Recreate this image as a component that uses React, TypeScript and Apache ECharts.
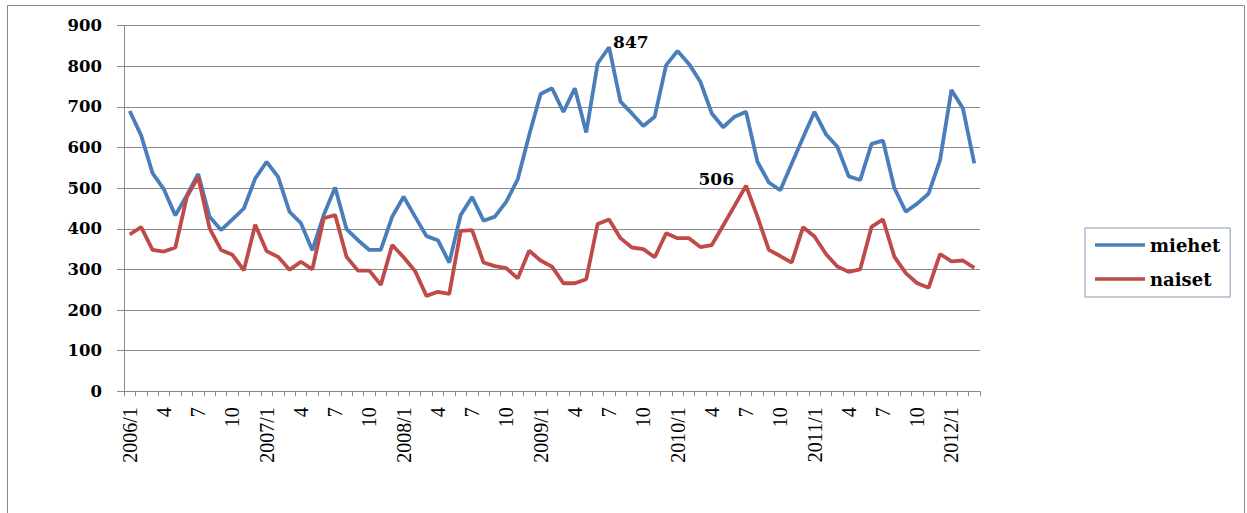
import React, { useEffect, useRef } from "react";
import * as echarts from "echarts";

const years = [2006, 2007, 2008, 2009, 2010, 2011, 2012];
const monthsInLastYear = 3;

const categories: string[] = [];
years.forEach((y, yi) => {
  const n = yi === years.length - 1 ? monthsInLastYear : 12;
  for (let m = 1; m <= n; m++) categories.push(m === 1 ? `${y}/1` : `${m}`);
});

const yTicks = [0, 100, 200, 300, 400, 500, 600, 700, 800, 900];

const miehet = [
  690, 630, 537, 497, 433, 482, 535, 430, 397, 423, 450, 524,
  565, 528, 442, 414, 347, 434, 502, 399, 372, 348, 348, 430,
  479, 430, 382, 372, 317, 434, 478, 420, 430, 467, 522, 631,
  732, 746, 688, 746, 637, 807, 847, 713, 684, 653, 676, 803,
  838, 806, 762, 684, 650, 676, 688, 565, 514, 495, 560, 625,
  688, 633, 602, 529, 520, 609, 617, 500, 442, 462, 487, 569,
  742, 697, 561,
];

const naiset = [
  386, 404, 348, 344, 354, 478, 528, 401, 348, 336, 298, 410,
  345, 331, 299, 319, 300, 426, 434, 331, 297, 297, 262, 360,
  330, 296, 235, 245, 240, 395, 397, 317, 308, 303, 278, 346,
  322, 307, 266, 266, 276, 412, 423, 377, 354, 350, 330, 389,
  377, 377, 355, 360, 408, 457, 506, 430, 348, 333, 317, 404,
  381, 338, 307, 294, 300, 405, 423, 331, 291, 266, 255, 338,
  320, 322, 304,
];

// labelled points: [year, month]
const miehetLabelAt = [2009, 7];
const naisetLabelAt = [2010, 7];

const labelFont = {
  fontFamily: "DejaVu Serif",
  fontWeight: "bold" as const,
  fontSize: 17,
  color: "#000",
};

function withLabel(values: number[], at: number[], label: any) {
  const idx = years.indexOf(at[0]) * 12 + (at[1] - 1);
  return values.map((v, i) => (i === idx ? { value: v, label } : v));
}

export default function App() {
  const ref = useRef<HTMLDivElement>(null);
  useEffect(() => {
    if (!ref.current) return;
    const chart = echarts.init(ref.current, null, { renderer: "svg" });
    chart.setOption({
      animation: false,
      backgroundColor: "#fff",
      graphic: [
        {
          type: "rect",
          shape: { x: 7.5, y: 5.5, width: 1237, height: 530 },
          style: { fill: "none", stroke: "#8a8a8a", lineWidth: 1 },
          silent: true,
        },
      ],
      grid: { left: 124, right: 267, top: 25.7, bottom: 121.7, containLabel: false },
      legend: {
        orient: "vertical",
        left: 1085,
        top: 228,
        padding: [8, 10, 9, 10],
        icon: "rect",
        itemWidth: 50,
        itemHeight: 3.5,
        itemGap: 16,
        borderColor: "#8498b4",
        borderWidth: 1,
        textStyle: {
          fontFamily: "DejaVu Serif",
          fontWeight: "bold",
          fontSize: 18,
          color: "#000",
          lineHeight: 14,
        },
        data: ["miehet", "naiset"],
      },
      xAxis: {
        type: "category",
        data: categories,
        boundaryGap: true,
        axisLine: { lineStyle: { color: "#8a8a8a", width: 1 } },
        axisTick: { show: true, interval: 0, length: 5, lineStyle: { color: "#8a8a8a" } },
        axisLabel: {
          interval: 2,
          rotate: 90,
          margin: 16,
          fontFamily: "Liberation Serif",
          fontSize: 20,
          color: "#000",
        },
        splitLine: { show: false },
      },
      yAxis: {
        type: "value",
        min: yTicks[0],
        max: yTicks[yTicks.length - 1],
        interval: 100,
        axisLine: { show: true, lineStyle: { color: "#8a8a8a", width: 1 } },
        axisTick: { show: true, length: 7, lineStyle: { color: "#8a8a8a" } },
        axisLabel: { margin: 22, ...labelFont, fontSize: 16.5 },
        splitLine: { show: true, lineStyle: { color: "#8a8a8a", width: 1 } },
      },
      series: [
        {
          name: "miehet",
          type: "line",
          symbol: "circle",
          symbolSize: 0,
          showSymbol: true,
          data: withLabel(miehet, miehetLabelAt, {
            show: true,
            position: "right",
            distance: 4,
            offset: [0, -5],
            ...labelFont,
          }),
          lineStyle: { color: "#4a7ebb", width: 3.8 },
          itemStyle: { color: "#4a7ebb" },
        },
        {
          name: "naiset",
          type: "line",
          symbol: "circle",
          symbolSize: 0,
          showSymbol: true,
          data: withLabel(naiset, naisetLabelAt, {
            show: true,
            position: "left",
            distance: 12,
            offset: [0, -7],
            ...labelFont,
          }),
          lineStyle: { color: "#be4b48", width: 3.8 },
          itemStyle: { color: "#be4b48" },
        },
      ],
    });
    return () => chart.dispose();
  }, []);
  return (
    <div
      ref={ref}
      style={{ position: "fixed", left: 0, top: 0, width: 1247, height: 513 }}
    />
  );
}
